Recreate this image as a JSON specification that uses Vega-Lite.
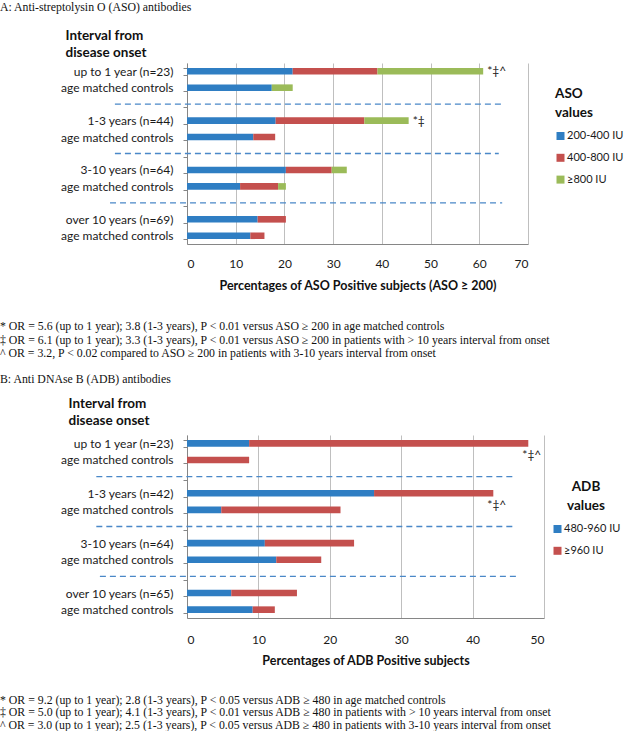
{
  "$schema": "https://vega.github.io/schema/vega-lite/v6.json",
  "padding": {"top": 2, "left": 0, "right": 0, "bottom": 0},
  "background": "white",
  "spacing": 29,
  "resolve": {"scale": {"color": "independent", "x": "independent", "y": "independent"}, "legend": {"color": "independent"}},
  "datasets": {
    "aso": [
      {"row": "up to 1 year (n=23)", "level": "200-400 IU", "ord": 1, "value": 21.7},
      {"row": "up to 1 year (n=23)", "level": "400-800 IU", "ord": 2, "value": 17.4},
      {"row": "up to 1 year (n=23)", "level": "≥800 IU", "ord": 3, "value": 21.7},
      {"row": "age matched controls|1", "level": "200-400 IU", "ord": 1, "value": 17.4},
      {"row": "age matched controls|1", "level": "400-800 IU", "ord": 2, "value": 0},
      {"row": "age matched controls|1", "level": "≥800 IU", "ord": 3, "value": 4.3},
      {"row": "1-3 years (n=44)", "level": "200-400 IU", "ord": 1, "value": 18.2},
      {"row": "1-3 years (n=44)", "level": "400-800 IU", "ord": 2, "value": 18.2},
      {"row": "1-3 years (n=44)", "level": "≥800 IU", "ord": 3, "value": 9.1},
      {"row": "age matched controls|2", "level": "200-400 IU", "ord": 1, "value": 13.6},
      {"row": "age matched controls|2", "level": "400-800 IU", "ord": 2, "value": 4.5},
      {"row": "age matched controls|2", "level": "≥800 IU", "ord": 3, "value": 0},
      {"row": "3-10 years (n=64)", "level": "200-400 IU", "ord": 1, "value": 20.3},
      {"row": "3-10 years (n=64)", "level": "400-800 IU", "ord": 2, "value": 9.4},
      {"row": "3-10 years (n=64)", "level": "≥800 IU", "ord": 3, "value": 3.1},
      {"row": "age matched controls|3", "level": "200-400 IU", "ord": 1, "value": 10.9},
      {"row": "age matched controls|3", "level": "400-800 IU", "ord": 2, "value": 7.8},
      {"row": "age matched controls|3", "level": "≥800 IU", "ord": 3, "value": 1.6},
      {"row": "over 10 years (n=69)", "level": "200-400 IU", "ord": 1, "value": 14.5},
      {"row": "over 10 years (n=69)", "level": "400-800 IU", "ord": 2, "value": 5.8},
      {"row": "over 10 years (n=69)", "level": "≥800 IU", "ord": 3, "value": 0},
      {"row": "age matched controls|4", "level": "200-400 IU", "ord": 1, "value": 13.0},
      {"row": "age matched controls|4", "level": "400-800 IU", "ord": 2, "value": 2.9},
      {"row": "age matched controls|4", "level": "≥800 IU", "ord": 3, "value": 0}
    ],
    "asoLines": [
      {"row": "|gap1", "start": -14.8, "end": 64.5},
      {"row": "|gap2", "start": -14.8, "end": 64.0},
      {"row": "|gap3", "start": -15.8, "end": 64.7}
    ],
    "asoNotes": [
      {"row": "up to 1 year (n=23)", "pos": 60.8, "note": "*‡^"},
      {"row": "1-3 years (n=44)", "pos": 45.5, "note": "*‡"}
    ],
    "adb": [
      {"row": "up to 1 year (n=23)", "level": "480-960 IU", "ord": 1, "value": 8.7},
      {"row": "up to 1 year (n=23)", "level": "≥960 IU", "ord": 2, "value": 39.1},
      {"row": "age matched controls|1", "level": "480-960 IU", "ord": 1, "value": 0},
      {"row": "age matched controls|1", "level": "≥960 IU", "ord": 2, "value": 8.7},
      {"row": "1-3 years (n=42)", "level": "480-960 IU", "ord": 1, "value": 26.2},
      {"row": "1-3 years (n=42)", "level": "≥960 IU", "ord": 2, "value": 16.7},
      {"row": "age matched controls|2", "level": "480-960 IU", "ord": 1, "value": 4.8},
      {"row": "age matched controls|2", "level": "≥960 IU", "ord": 2, "value": 16.7},
      {"row": "3-10 years (n=64)", "level": "480-960 IU", "ord": 1, "value": 10.9},
      {"row": "3-10 years (n=64)", "level": "≥960 IU", "ord": 2, "value": 12.5},
      {"row": "age matched controls|3", "level": "480-960 IU", "ord": 1, "value": 12.5},
      {"row": "age matched controls|3", "level": "≥960 IU", "ord": 2, "value": 6.3},
      {"row": "over 10 years (n=65)", "level": "480-960 IU", "ord": 1, "value": 6.2},
      {"row": "over 10 years (n=65)", "level": "≥960 IU", "ord": 2, "value": 9.2},
      {"row": "age matched controls|4", "level": "480-960 IU", "ord": 1, "value": 9.2},
      {"row": "age matched controls|4", "level": "≥960 IU", "ord": 2, "value": 3.1}
    ],
    "adbLines": [
      {"row": "|gap1", "start": -12.7, "end": 46.0},
      {"row": "|gap2", "start": -12.7, "end": 46.0},
      {"row": "|gap3", "start": -12.2, "end": 46.5}
    ],
    "adbNotes": [
      {"row": "up to 1 year (n=23)", "pos": 47.8, "note": "*‡^"},
      {"row": "1-3 years (n=42)", "pos": 42.9, "note": "*‡^"}
    ],
    "blank": [{"k": 1}]
  },
  "config": {
    "view": {"stroke": null},
    "axis": {"labelFont": "Lato", "titleFont": "Lato", "labelColor": "#1a1a1a", "titleColor": "#111111", "labelFontSize": 12},
    "axisY": {"domainColor": "#868686", "tickColor": "#868686", "tickSize": 4, "tickBand": "extent", "labelPadding": 10, "grid": false, "titleAngle": 0, "titleAlign": "left", "titleBaseline": "top", "titleFontSize": 13.5, "titleFontWeight": "bold", "titleLineHeight": 17, "labelExpr": "isString(datum.value) ? split(datum.value, '|')[0] : ''"},
    "axisX": {"grid": true, "gridColor": "#BFBFBF", "domainColor": "#868686", "ticks": false, "labelPadding": 14, "titleFontSize": 12.5, "titleFontWeight": "bold", "titlePadding": 10},
    "title": {"font": "Liberation Serif", "fontSize": 11.8, "fontWeight": "normal", "color": "#111111", "anchor": "start", "frame": "group", "dx": -187, "lineHeight": 13.5, "subtitleFont": "Liberation Serif", "subtitleFontSize": 11.8, "subtitleColor": "#111111", "subtitleLineHeight": 13.5},
    "legend": {"orient": "none", "titleFont": "Lato", "titleFontSize": 13.5, "titleFontWeight": "bold", "titleLineHeight": 19, "titleColor": "#111111", "labelFont": "Lato", "labelFontSize": 11, "labelColor": "#1a1a1a", "symbolType": "square", "symbolSize": 64, "symbolStrokeWidth": 0, "symbolOpacity": 1, "rowPadding": 9.8, "titlePadding": 11, "labelOffset": 1}
  },
  "vconcat": [
    {
      "width": 341,
      "height": 181,
      "title": {"text": "A: Anti-streptolysin O (ASO) antibodies", "offset": 14},
      "layer": [
        {
          "data": {"name": "aso"},
          "mark": {"type": "bar"},
          "encoding": {
            "y": {"field": "row", "type": "nominal",
              "scale": {"domain": ["up to 1 year (n=23)", "age matched controls|1", "|gap1", "1-3 years (n=44)", "age matched controls|2", "|gap2", "3-10 years (n=64)", "age matched controls|3", "|gap3", "over 10 years (n=69)", "age matched controls|4"], "paddingInner": 0.6, "paddingOuter": 0.3},
              "axis": {"title": ["Interval from", "disease onset"], "titleX": -122, "titleY": -35}},
            "x": {"field": "value", "type": "quantitative", "stack": "zero",
              "scale": {"domain": [0, 70], "nice": false},
              "axis": {"values": [0, 10, 20, 30, 40, 50, 60, 70], "title": "Percentages of ASO Positive subjects (ASO ≥ 200)"}},
            "color": {"field": "level", "type": "nominal",
              "scale": {"domain": ["200-400 IU", "400-800 IU", "≥800 IU"], "range": ["#2F7EC3", "#C4504E", "#9BBB59"]},
              "legend": {"title": ["ASO", "values"], "legendX": 368, "legendY": 24}},
            "order": {"field": "ord"}
          }
        },
        {
          "data": {"name": "asoLines"},
          "mark": {"type": "rule", "strokeDash": [6, 4], "color": "#4A88C8", "strokeWidth": 1.3},
          "encoding": {
            "y": {"field": "row", "type": "nominal"},
            "x": {"field": "start", "type": "quantitative"},
            "x2": {"field": "end"}
          }
        },
        {
          "data": {"name": "asoNotes"},
          "mark": {"type": "text", "align": "left", "baseline": "middle", "dx": 4, "font": "Lato", "fontSize": 12, "color": "#222222"},
          "encoding": {
            "y": {"field": "row", "type": "nominal"},
            "x": {"field": "pos", "type": "quantitative"},
            "text": {"field": "note"}
          }
        }
      ]
    },
    {
      "spacing": 27,
      "vconcat": [
        {
          "width": 357,
          "height": 183,
          "title": {"text": [
            "* OR = 5.6 (up to 1 year); 3.8 (1-3 years), P < 0.01 versus ASO ≥ 200 in age matched controls",
            "‡ OR = 6.1 (up to 1 year); 3.3 (1-3 years), P < 0.01 versus ASO ≥ 200 in patients with > 10 years interval from onset",
            "^ OR = 3.2, P < 0.02 compared to ASO ≥ 200 in patients with 3-10 years interval from onset"],
            "subtitle": "B: Anti DNAse B (ADB) antibodies", "subtitlePadding": 14, "offset": 10},
          "layer": [
            {
              "data": {"name": "adb"},
              "mark": {"type": "bar"},
              "encoding": {
                "y": {"field": "row", "type": "nominal",
                  "scale": {"domain": ["up to 1 year (n=23)", "age matched controls|1", "|gap1", "1-3 years (n=42)", "age matched controls|2", "|gap2", "3-10 years (n=64)", "age matched controls|3", "|gap3", "over 10 years (n=65)", "age matched controls|4"], "paddingInner": 0.6, "paddingOuter": 0.3},
                  "axis": {"title": ["Interval from", "disease onset"], "titleX": -119, "titleY": -39}},
                "x": {"field": "value", "type": "quantitative", "stack": "zero",
                  "scale": {"domain": [0, 50], "nice": false},
                  "axis": {"values": [0, 5, 10, 15, 20, 25, 30, 35, 40, 45, 50], "title": "Percentages of ADB Positive subjects", "labelPadding": 16, "titlePadding": 9}},
                "color": {"field": "level", "type": "nominal",
                  "scale": {"domain": ["480-960 IU", "≥960 IU"], "range": ["#2F7EC3", "#C4504E"]},
                  "legend": {"title": ["ADB", "values"], "titleAnchor": "middle", "legendX": 365, "legendY": 45}},
                "order": {"field": "ord"}
              }
            },
            {
              "data": {"name": "adbLines"},
              "mark": {"type": "rule", "strokeDash": [6, 4], "color": "#4A88C8", "strokeWidth": 1.3},
              "encoding": {
                "y": {"field": "row", "type": "nominal"},
                "x": {"field": "start", "type": "quantitative"},
                "x2": {"field": "end"}
              }
            },
            {
              "data": {"name": "adbNotes"},
              "mark": {"type": "text", "align": "left", "baseline": "middle", "dx": -6, "dy": 12, "font": "Lato", "fontSize": 12, "color": "#222222"},
              "encoding": {
                "y": {"field": "row", "type": "nominal"},
                "x": {"field": "pos", "type": "quantitative"},
                "text": {"field": "note"}
              }
            }
          ]
        },
        {
          "width": 357,
          "height": 1,
          "data": {"name": "blank"},
          "title": {"text": [
            "* OR = 9.2 (up to 1 year); 2.8 (1-3 years), P < 0.05 versus ADB ≥ 480 in age matched controls",
            "‡ OR = 5.0 (up to 1 year); 4.1 (1-3 years), P < 0.01 versus ADB ≥ 480 in patients with > 10 years interval from onset",
            "^ OR = 3.0 (up to 1 year); 2.5 (1-3 years), P < 0.05 versus ADB ≥ 480 in patients with 3-10 years interval from onset"], "lineHeight": 12.5, "offset": 0},
          "mark": {"type": "text", "text": ""},
          "encoding": {}
        }
      ]
    }
  ]
}
